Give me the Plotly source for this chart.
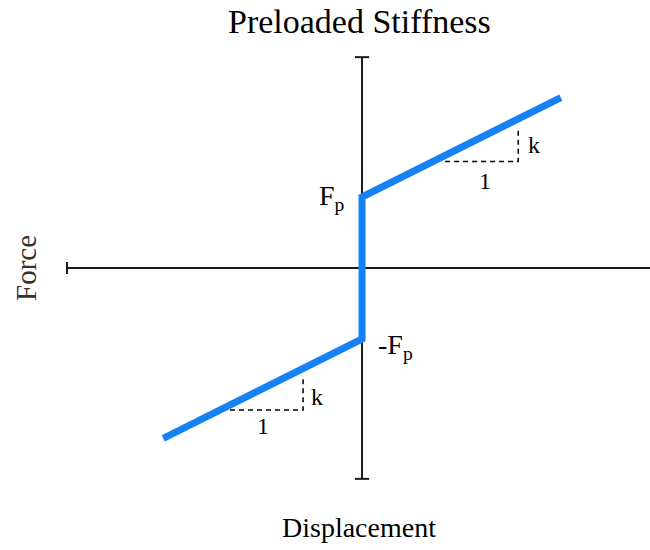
import plotly.graph_objects as go

# Preloaded stiffness model: force jumps by +/- Fp at zero displacement,
# then grows with slope k on either side.
displacement = [-2.8, 0.0, 0.0, 2.8]
force = [-2.4, -1.0, 1.0, 2.4]

# Axis extents (data units) and end-cap half-widths
x_axis_span = [-4.155, 4.2]
y_axis_span = [-2.97, 2.97]
cap = 0.1

# Slope triangles: (horizontal run start, run end, base force, top force)
upper_tri = [1.17, 2.2, 1.5, 1.94]
lower_tri = [-1.86, -0.83, -2.0, -1.55]

SERIF = "Liberation Serif, Times New Roman, serif"
AXIS_COLOR = "#1a1a1a"
CURVE_COLOR = "#1680f5"

fig = go.Figure()

# Coordinate axes
fig.add_trace(go.Scatter(x=x_axis_span, y=[0, 0], mode="lines",
                         line=dict(color=AXIS_COLOR, width=2), hoverinfo="skip"))
fig.add_trace(go.Scatter(x=[0, 0], y=y_axis_span, mode="lines",
                         line=dict(color=AXIS_COLOR, width=2), hoverinfo="skip"))
# End caps
fig.add_trace(go.Scatter(x=[x_axis_span[0], x_axis_span[0]], y=[-0.085, 0.085], mode="lines",
                         line=dict(color=AXIS_COLOR, width=2), hoverinfo="skip"))
for yv in y_axis_span:
    fig.add_trace(go.Scatter(x=[-cap, cap], y=[yv, yv], mode="lines",
                             line=dict(color=AXIS_COLOR, width=2), hoverinfo="skip"))

# Slope triangles (dashed)
for x0, x1, yb, yt in (upper_tri, lower_tri):
    fig.add_trace(go.Scatter(x=[x0, x1, x1], y=[yb, yb, yt], mode="lines",
                             line=dict(color="black", width=1.5, dash="5px,4px"),
                             hoverinfo="skip"))

# Force-displacement curve
fig.add_trace(go.Scatter(x=displacement, y=force, mode="lines",
                         line=dict(color=CURVE_COLOR, width=7), hoverinfo="skip"))

ann = []
def label(x, y, text, size=28):
    ann.append(dict(x=x, y=y, xref="x", yref="y", text=text, showarrow=False,
                    xanchor="center", yanchor="middle",
                    font=dict(family=SERIF, size=size, color="black")))

def page_text(px, py, text, size, angle=0, color="black"):
    # place text by its pixel centre on the 650x550 page
    ann.append(dict(x=px / 650, y=1 - py / 550, xref="paper", yref="paper",
                    text=text, textangle=angle, showarrow=False,
                    xanchor="center", yanchor="middle",
                    font=dict(family=SERIF, size=size, color=color)))

label(-0.42, 1.0, "F<sub>p</sub>")
label(0.47, -1.1, "-F<sub>p</sub>")
label(upper_tri[1] + 0.22, 1.73, "k", size=24)
label((upper_tri[0] + upper_tri[1]) / 2 + 0.05, 1.22, "1", size=24)
label(lower_tri[1] + 0.2, -1.82, "k", size=24)
label((lower_tri[0] + lower_tri[1]) / 2 - 0.05, -2.23, "1", size=24)

page_text(359, 21, "Preloaded Stiffness", 34)
page_text(359, 527, "Displacement", 28)
page_text(26, 268, "Force", 29, angle=-90, color="#333333")

fig.update_layout(
    width=650, height=550,
    margin=dict(l=0, r=0, t=0, b=0),
    paper_bgcolor="white", plot_bgcolor="white",
    showlegend=False,
    xaxis=dict(range=[-5.099, 4.056], visible=False, fixedrange=True),
    yaxis=dict(range=[-3.972, 3.775], visible=False, fixedrange=True),
    annotations=ann,
)

fig.write_html("out.html")
